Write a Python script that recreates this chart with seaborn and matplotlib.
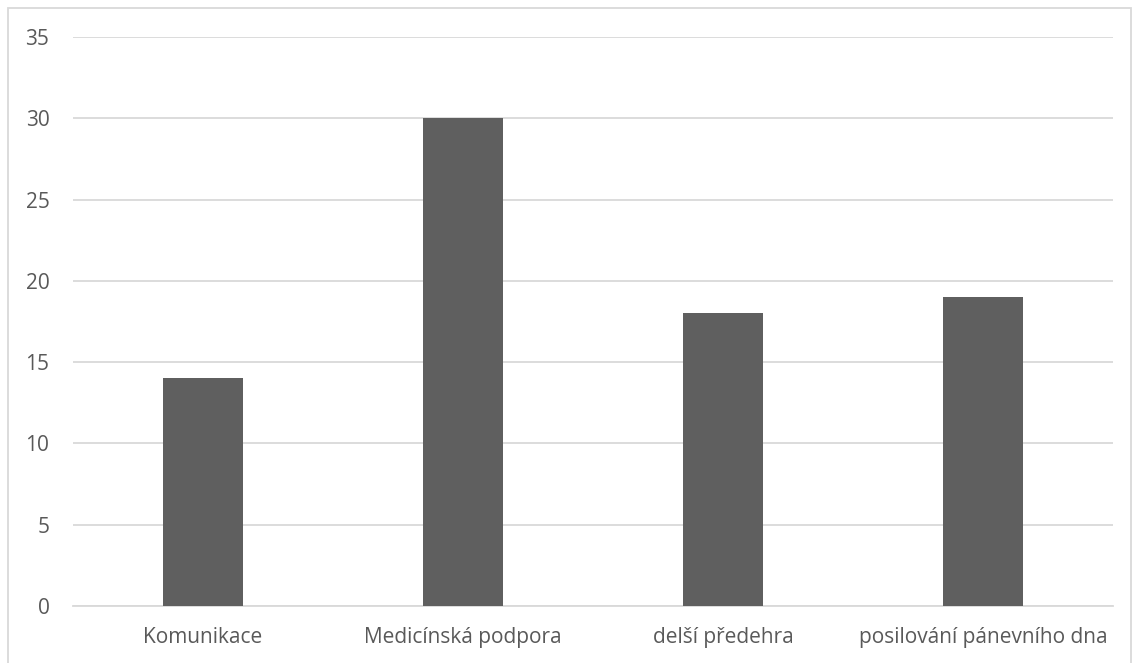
import matplotlib
matplotlib.use("Agg")
import matplotlib.pyplot as plt
import seaborn as sns
import pandas as pd
from matplotlib.patches import Rectangle

categories = ["Komunikace", "Medicínská podpora", "delší předehra", "posilování pánevního dna"]
values = [14, 30, 18, 19]
yticks = [0, 5, 10, 15, 20, 25, 30, 35]

sns.set_theme(style="white")
plt.rcParams['font.family'] = ['Open Sans', 'DejaVu Sans']

W, H = 1139, 663
fig = plt.figure(figsize=(W / 100, H / 100), dpi=100)
ax = fig.add_axes([73 / W, (H - 606) / H, (1113 - 73) / W, (606 - 37) / H])

df = pd.DataFrame({"cat": categories, "val": values})
sns.barplot(data=df, x="cat", y="val", color="#5f5f5f", saturation=1, width=0.31,
            linewidth=0, ax=ax, zorder=3)

ax.set_ylim(0, 35)
ax.set_xlim(-0.5, len(categories) - 0.5)
ax.set_yticks(yticks)
ax.set_yticklabels([str(t) for t in yticks])
ax.set_xlabel("")
ax.set_ylabel("")
ax.grid(axis="y", color="#d9d9d9", linewidth=1.3, zorder=0)
ax.set_axisbelow(True)
for s in ["top", "right", "left"]:
    ax.spines[s].set_visible(False)
ax.spines["bottom"].set_color("#d9d9d9")
ax.spines["bottom"].set_linewidth(1.3)
ax.tick_params(axis="y", length=0, pad=17, labelsize=15, labelcolor="#595959")
ax.tick_params(axis="x", length=0, pad=15, labelsize=15, labelcolor="#595959")

fig.patches.append(Rectangle((8 / W, -0.1), (1131 - 8) / W, 1 - 8 / H + 0.1,
                             transform=fig.transFigure, fill=False,
                             edgecolor="#d9d9d9", linewidth=1.3))

fig.savefig("out.png", dpi=100, facecolor="white")
